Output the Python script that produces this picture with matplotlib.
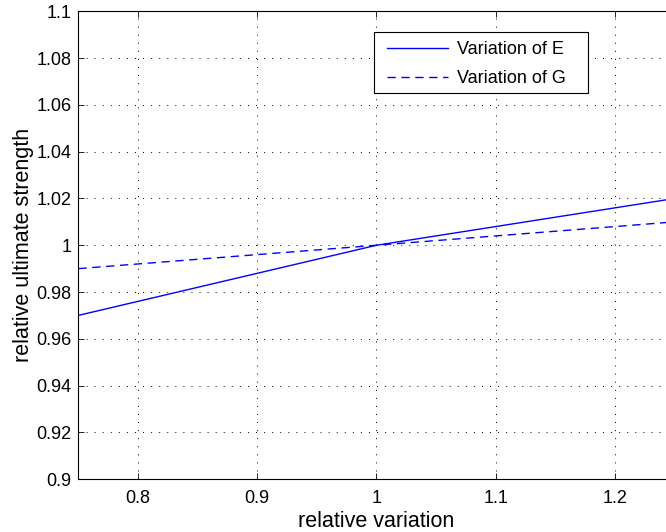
import matplotlib
matplotlib.use("Agg")
import matplotlib.pyplot as plt
from matplotlib.patches import Rectangle
from matplotlib.ticker import FixedLocator

plt.rcParams['font.family'] = ['Liberation Sans', 'DejaVu Sans']

# relative variation of the parameter
x_vals = [0.75, 1.0, 1.25]
# relative ultimate strength for each varied parameter
strength_E = [0.970, 1.000, 1.020]
strength_G = [0.990, 1.000, 1.010]

x_ticks = [0.8, 0.9, 1.0, 1.1, 1.2]
x_ticklabels = ['0.8', '0.9', '1', '1.1', '1.2']
y_ticks = [0.9, 0.92, 0.94, 0.96, 0.98, 1.0, 1.02, 1.04, 1.06, 1.08, 1.1]
y_ticklabels = ['0.9', '0.92', '0.94', '0.96', '0.98', '1', '1.02', '1.04', '1.06', '1.08', '1.1']

fig = plt.figure(figsize=(6.66, 5.32), dpi=100)
ax = fig.add_axes([0.1177, 0.0996, 0.8952, 0.8788])

ax.plot(x_vals, strength_E, color=(0, 0, 1), lw=1.0, label='Variation of E')
lg, = ax.plot(x_vals, strength_G, color=(0, 0, 1), lw=1.0, label='Variation of G')
lg.set_dashes([6, 4])

ax.set_xlim(0.75, 1.25)
ax.set_ylim(0.9, 1.1)
ax.xaxis.set_major_locator(FixedLocator(x_ticks))
ax.yaxis.set_major_locator(FixedLocator(y_ticks))
ax.set_xticklabels(x_ticklabels)
ax.set_yticklabels(y_ticklabels)

ax.grid(True, color='black', linestyle=(0, (1, 7.3)), linewidth=0.7)
ax.tick_params(direction='in', top=True, right=True, length=4, width=0.6,
               labelsize=13)
ax.tick_params(axis='x', pad=8)
ax.tick_params(axis='y', pad=5)
for s in ax.spines.values():
    s.set_linewidth(0.8)

ax.set_xlabel('relative variation', fontsize=15.5, labelpad=3)
ax.set_ylabel('relative ultimate strength', fontsize=15.5, labelpad=1.5)

# legend entries without frame, box drawn separately
leg = ax.legend(loc='upper left', bbox_to_anchor=(0.5176, 0.937), fontsize=13,
                frameon=False, handlelength=3.4, handletextpad=0.5,
                borderpad=0, labelspacing=0.67, borderaxespad=0)
ax.add_patch(Rectangle((0.4958, 0.8257), 0.8548 - 0.4958, 0.9561 - 0.8257,
                       transform=ax.transAxes, facecolor='white',
                       edgecolor='black', linewidth=0.8, zorder=4))
leg.set_zorder(5)

fig.savefig('out.png', dpi=100)
